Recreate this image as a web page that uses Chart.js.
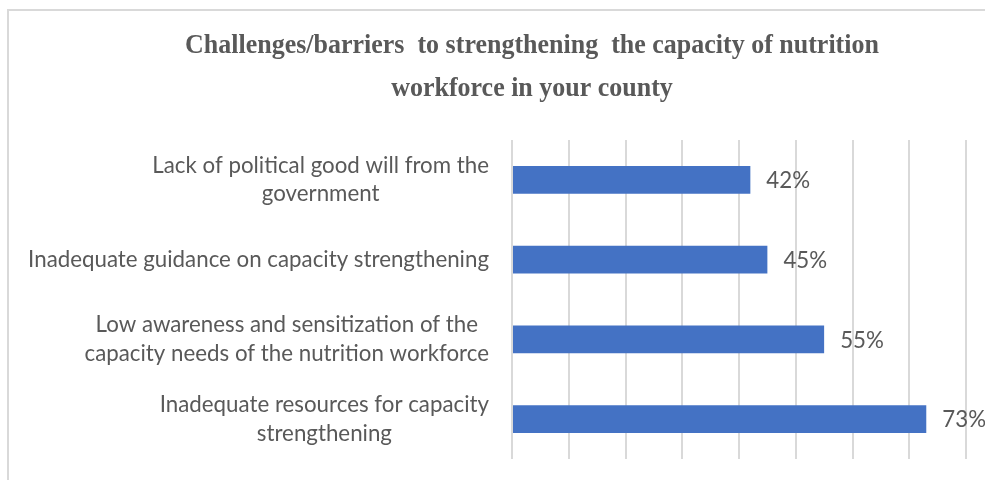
<!DOCTYPE html>
<html>
<head>
<meta charset="utf-8">
<script src="https://cdn.jsdelivr.net/npm/chart.js@4/dist/chart.umd.min.js"></script>
<style>
  html, body { margin: 0; padding: 0; background: #ffffff; }
  #wrap { width: 985px; height: 480px; position: relative; }
</style>
</head>
<body>
<div id="wrap"><canvas id="c" width="985" height="480"></canvas></div>
<script>
// ---- data ----
const titleLines = [
  'Challenges/barriers  to strengthening  the capacity of nutrition',
  'workforce in your county'
];
const categories = [
  ['Lack of political good will from the', 'government'],
  ['Inadequate guidance on capacity strengthening'],
  ['Low awareness and sensitization of the ', 'capacity needs of the nutrition workforce'],
  ['Inadequate resources for capacity', 'strengthening']
];
const values = [42, 45, 55, 73];
const valueLabels = ['42%', '45%', '55%', '73%'];
const axisMax = 80;
const axisStep = 10;

// ---- styles ----
const TEXT = '#595959';
const BAR = '#4472C4';
const GRID = '#d9d9d9';
const LABEL_FONT = '22.3px Lato, "Open Sans", sans-serif';

const framePlugin = {
  id: 'frame',
  beforeDraw(chart) {
    const ctx = chart.ctx;
    ctx.save();
    ctx.fillStyle = '#ffffff';
    ctx.fillRect(0, 0, chart.width, chart.height);
    ctx.strokeStyle = '#d9d9d9';
    ctx.lineWidth = 2;
    ctx.strokeRect(8, 10, chart.width + 20, chart.height + 20);
    ctx.restore();
  }
};

const titlePlugin = {
  id: 'customTitle',
  afterDraw(chart) {
    const ctx = chart.ctx;
    ctx.save();
    ctx.fillStyle = TEXT;
    ctx.font = 'bold 28px "Liberation Serif", "Times New Roman", serif';
    ctx.textAlign = 'center';
    ctx.textBaseline = 'alphabetic';
    const cx = 532;
    const baselines = [53, 96];
    const sx = 0.928;
    titleLines.forEach((t, i) => {
      ctx.save();
      ctx.translate(cx, baselines[i]);
      ctx.scale(sx, 1);
      ctx.fillText(t, 0, 0);
      ctx.restore();
    });
    ctx.restore();
  }
};

const catLabelPlugin = {
  id: 'catLabels',
  afterDraw(chart) {
    const ctx = chart.ctx;
    const y = chart.scales.y;
    const right = chart.chartArea.left - 23;
    const lh = 28.5;
    ctx.save();
    ctx.fillStyle = TEXT;
    ctx.font = LABEL_FONT;
    ctx.textBaseline = 'middle';
    ctx.textAlign = 'center';
    categories.forEach((lines, i) => {
      const cy = y.getPixelForValue(i);
      const w = Math.max(...lines.map(l => ctx.measureText(l.trimEnd()).width));
      const cx = right - w / 2;
      const y0 = cy - (lines.length - 1) * lh / 2;
      lines.forEach((l, j) => ctx.fillText(l.trimEnd(), cx, y0 + j * lh));
    });
    ctx.restore();
  }
};

const valueLabelPlugin = {
  id: 'valueLabels',
  afterDatasetsDraw(chart) {
    const ctx = chart.ctx;
    const meta = chart.getDatasetMeta(0);
    ctx.save();
    ctx.fillStyle = TEXT;
    ctx.font = LABEL_FONT;
    ctx.textAlign = 'left';
    ctx.textBaseline = 'middle';
    meta.data.forEach((bar, i) => {
      ctx.fillText(valueLabels[i], bar.x + 16, bar.y + 1);
    });
    ctx.restore();
  }
};

new Chart(document.getElementById('c'), {
  type: 'bar',
  data: {
    labels: categories,
    datasets: [{
      data: values,
      backgroundColor: BAR,
      borderWidth: 0,
      barPercentage: 0.35,
      categoryPercentage: 1
    }]
  },
  options: {
    indexAxis: 'y',
    responsive: false,
    animation: false,
    devicePixelRatio: 1,
    layout: { padding: { top: 140, right: 19, bottom: 21, left: 0 } },
    plugins: {
      legend: { display: false },
      title: { display: false },
      tooltip: { enabled: false }
    },
    scales: {
      x: {
        min: 0,
        max: axisMax,
        ticks: { display: false, stepSize: axisStep },
        grid: { color: GRID, lineWidth: 2, drawTicks: false },
        border: { display: false },
        afterFit(s) { s.height = 0; }
      },
      y: {
        ticks: { display: false },
        grid: { display: false, drawTicks: false },
        border: { display: false },
        afterFit(s) { s.width = 512; }
      }
    }
  },
  plugins: [framePlugin, titlePlugin, catLabelPlugin, valueLabelPlugin]
});
</script>
</body>
</html>
